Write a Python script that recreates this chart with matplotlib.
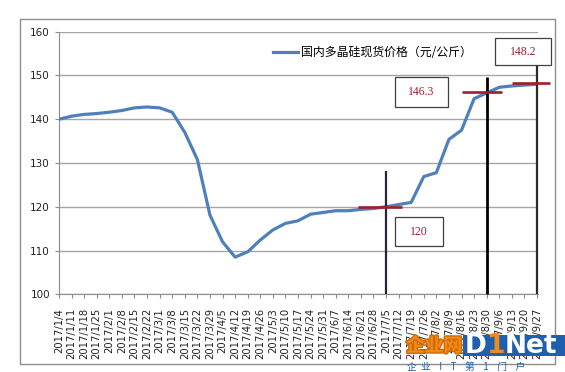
import matplotlib
matplotlib.use("Agg")
import matplotlib.pyplot as plt
import matplotlib.patheffects as pe
from matplotlib.patches import Rectangle

# weekly polysilicon spot price
dates = ['2017/1/4', '2017/1/11', '2017/1/18', '2017/1/25', '2017/2/1', '2017/2/8',
         '2017/2/15', '2017/2/22', '2017/3/1', '2017/3/8', '2017/3/15', '2017/3/22',
         '2017/3/29', '2017/4/5', '2017/4/12', '2017/4/19', '2017/4/26', '2017/5/3',
         '2017/5/10', '2017/5/17', '2017/5/24', '2017/5/31', '2017/6/7', '2017/6/14',
         '2017/6/21', '2017/6/28', '2017/7/5', '2017/7/12', '2017/7/19', '2017/7/26',
         '2017/8/2', '2017/8/9', '2017/8/16', '2017/8/23', '2017/8/30', '2017/9/6',
         '2017/9/13', '2017/9/20', '2017/9/27']
prices = [140.0, 140.7, 141.1, 141.3, 141.6, 142.0, 142.6, 142.8, 142.6, 141.6,
          137.0, 130.8, 118.1, 112.0, 108.5, 109.7, 112.4, 114.7, 116.2, 116.8,
          118.3, 118.7, 119.1, 119.1, 119.4, 119.6, 120.0, 120.5, 121.0, 126.9,
          127.8, 135.4, 137.5, 144.7, 146.0, 147.3, 147.6, 147.8, 148.0]
series_name = '国内多晶硅现货价格（元/公斤）'
yticks = [100, 110, 120, 130, 140, 150, 160]

# marked weeks and their labels
mark_dates = ['2017/7/5', '2017/8/30', '2017/9/27']
mark_values = [120, 146.3, 148.2]

plt.rcParams['font.family'] = ['DejaVu Sans', 'Noto Sans CJK SC']

fig = plt.figure(figsize=(5.65, 3.72), dpi=100)
fig.patch.set_facecolor('white')
fig.patches.append(Rectangle((20 / 565, 1 - 363.7 / 372), 535 / 565, 344.4 / 372,
                             transform=fig.transFigure, fill=False,
                             edgecolor='#8c8c8c', lw=1))
ax = fig.add_axes([59 / 565, 1 - 294.3 / 372, 479 / 565, 262.6 / 372])

x = list(range(len(dates)))
ax.plot(x, prices, color='#5080bc', lw=2.3, label=series_name, zorder=3,
        solid_joinstyle='round')

ax.set_xlim(0, len(dates) - 1 + 0.08)
ax.set_ylim(100, 160)
ax.set_yticks(yticks)
ax.set_yticklabels([str(v) for v in yticks], fontsize=7.5, color='#222222')
ax.set_xticks(x)
ax.set_xticklabels(dates, rotation=90, fontsize=7.2, color='#222222', va='top')
ax.tick_params(axis='both', length=3, color='#8c8c8c', width=0.8)
ax.tick_params(axis='x', pad=7)
ax.grid(axis='y', color='#a6a6a6', lw=1)
ax.set_axisbelow(True)
for s in ['top', 'right']:
    ax.spines[s].set_visible(False)
for s in ['left', 'bottom']:
    ax.spines[s].set_color('#8c8c8c')

leg = ax.legend(loc='center left', bbox_to_anchor=(0.447, 0.92), frameon=False,
                borderpad=0, borderaxespad=0, handlelength=2.1, handletextpad=0.25,
                prop={'family': ['Noto Sans CJK SC'], 'size': 8.6})

# annotation layout: vertical line top, red bar span, box (x0, x1, y0, y1) relative to week
vtops = [128.2, 149.7, 152.2]
vstyles = [('#25253c', 1.6), ('#000000', 2.0), ('#2a2a2a', 1.6)]
bar_span = [(-2.2, 1.3), (-2.0, 1.2), (-2.0, 1.0)]
boxes = [(0.7, 4.5, 111.0, 117.6), (-7.3, -3.1, 142.8, 149.6), (-3.3, 1.1, 152.3, 158.6)]
red = '#9b1f2e'
for d, v, top, (c, w), (b0, b1), (x0, x1, y0, y1) in zip(mark_dates, mark_values, vtops,
                                                         vstyles, bar_span, boxes):
    i = dates.index(d)
    ax.plot([i, i], [100, top], color=c, lw=w, zorder=4, clip_on=False,
            solid_capstyle='butt')
    ax.plot([i + b0, i + b1], [v, v], color=red, lw=1.9, zorder=5, clip_on=False,
            solid_capstyle='butt')
    ax.add_patch(Rectangle((i + x0, y0), x1 - x0, y1 - y0, facecolor='white',
                           edgecolor='#404040', lw=0.9, zorder=6, clip_on=False))
    ax.text(i + (x0 + x1) / 2, (y0 + y1) / 2, '%g' % v, ha='center', va='center',
            color=red, fontsize=8.5, family='Liberation Serif', zorder=7)

# watermark
fig.text(406 / 565, 1 - 346 / 372, '企业网', color='#f08a1c', fontsize=13.5,
         fontweight='bold', family=['Noto Sans CJK SC'], va='center',
         path_effects=[pe.withStroke(linewidth=2, foreground='#d46a00')])
fig.patches.append(Rectangle((463 / 565, 1 - 356 / 372), 102 / 565, 21 / 372,
                             transform=fig.transFigure, facecolor='#1f5fae',
                             edgecolor='none'))
fig.text(465 / 565, 1 - 346 / 372, 'D', color='white', fontsize=19,
         fontweight='bold', va='center')
fig.text(487 / 565, 1 - 346 / 372, '1', color='#f08a1c', fontsize=19,
         fontweight='bold', va='center')
fig.text(505 / 565, 1 - 346 / 372, 'Net', color='white', fontsize=19,
         fontweight='bold', va='center')
fig.text(407 / 565, 1 - 367 / 372, '企  业    I    T    第    1    门    户', color='#1f5fae',
         fontsize=7, family=['Noto Sans CJK SC'], va='center')

fig.savefig('out.png', dpi=100)
